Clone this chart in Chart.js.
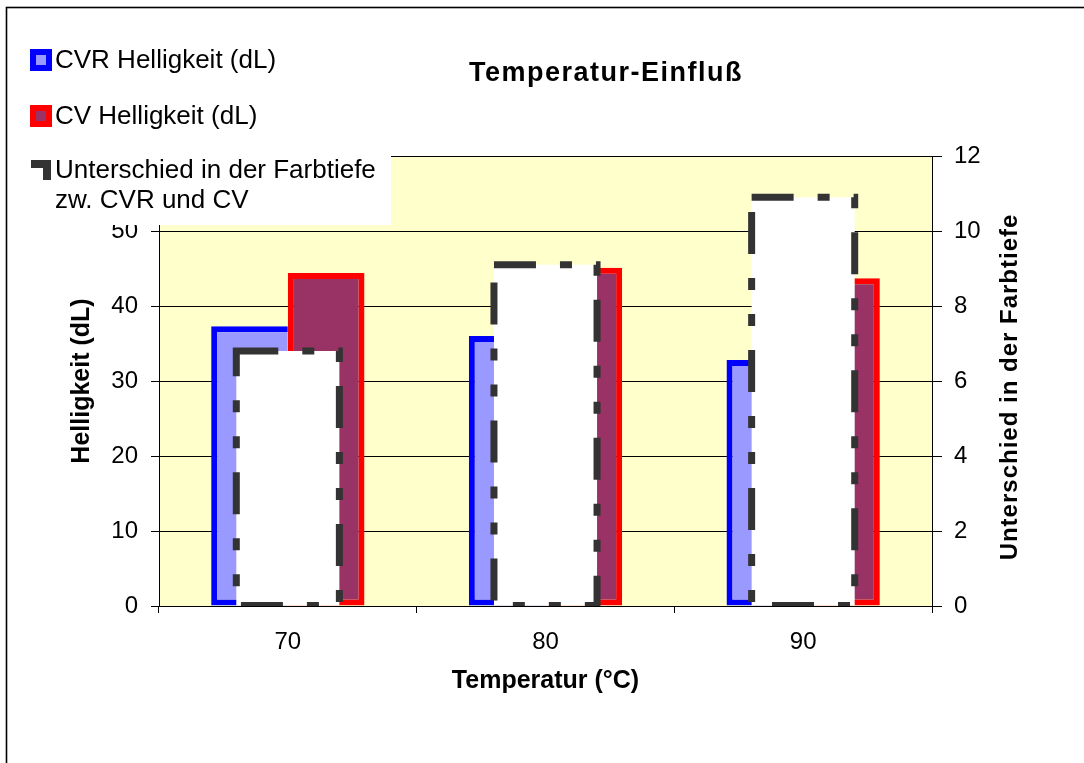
<!DOCTYPE html>
<html lang="de">
<head>
  <meta charset="UTF-8" />
  <title>Temperatur-Einfluß</title>
  <script src="https://cdn.jsdelivr.net/npm/chart.js"></script>
  <style>
    body { margin: 0; background: #fff; }
    canvas { display: block; }
  </style>
</head>
<body>
  <canvas id="chart" width="1084" height="763"></canvas>

  <script>
    const temperaturen = ["70", "80", "90"];
    const cvrHelligkeit = [37.3, 36.0, 32.8];
    const cvHelligkeit = [44.4, 45.1, 43.7];
    const farbtiefeDiff = [6.8, 9.1, 10.9];
    const legendTexte = ["CVR Helligkeit (dL)", "CV Helligkeit (dL)", "Unterschied in der Farbtiefe", "zw. CVR und CV"];
    const titel = "Temperatur-Einfluß";
    const y2Titel = "Unterschied in der Farbtiefe";

    const FONT = "'Liberation Sans', Arial, sans-serif";

    // gelber Plotbereich, gestrichelte Balken, Legende, Titel, rechte Achsenbeschriftung
    const zeichenPlugin = {
      id: "zeichen",
      beforeDraw(chart) {
        const { ctx, chartArea: a } = chart;
        ctx.save();
        ctx.fillStyle = "#FFFFCC";
        ctx.fillRect(a.left, a.top, a.right - a.left, a.bottom - a.top);
        ctx.restore();
      },
      afterDatasetsDraw(chart) {
        const { ctx, chartArea: a } = chart;
        const meta = chart.getDatasetMeta(2);
        ctx.save();
        ctx.beginPath();
        ctx.rect(a.left, a.top, a.right - a.left, a.bottom - a.top);
        ctx.clip();
        ctx.strokeStyle = "#333333";
        ctx.lineWidth = 7;
        ctx.setLineDash([42, 24, 12, 24, 12, 24]);
        meta.data.forEach(el => {
          const { x, y, base, width } = el.getProps(["x", "y", "base", "width"], true);
          ctx.strokeRect(x - width / 2, y, width, base - y);
        });
        ctx.restore();
      },
      afterDraw(chart) {
        const ctx = chart.ctx;
        ctx.save();
        // Legende
        ctx.fillStyle = "#fff";
        ctx.fillRect(20, 30, 371, 195);
        ctx.fillStyle = "#0000FF";
        ctx.fillRect(30, 49, 22, 22);
        ctx.fillStyle = "#9999FF";
        ctx.fillRect(36, 55, 10, 10);
        ctx.fillStyle = "#FF0000";
        ctx.fillRect(30, 105, 22, 22);
        ctx.fillStyle = "#993366";
        ctx.fillRect(36, 111, 10, 10);
        ctx.fillStyle = "#333333";
        ctx.fillRect(31, 160, 20, 8);
        ctx.fillRect(43, 160, 8, 20);
        ctx.fillStyle = "#000";
        ctx.font = "26px " + FONT;
        ctx.textBaseline = "middle";
        ctx.textAlign = "left";
        ctx.fillText(legendTexte[0], 55, 61);
        ctx.fillText(legendTexte[1], 55, 117);
        ctx.fillText(legendTexte[2], 55, 171);
        ctx.fillText(legendTexte[3], 55, 201);
        // Titel
        ctx.font = "bold 27px " + FONT;
        ctx.textAlign = "center";
        ctx.letterSpacing = "1.5px";
        ctx.fillText(titel, 606, 74);
        // rechte Achsenbeschriftung (von unten nach oben)
        ctx.letterSpacing = "1px";
        ctx.translate(1010, 387);
        ctx.rotate(-Math.PI / 2);
        ctx.font = "bold 24px " + FONT;
        ctx.fillText(y2Titel, 0, 0);
        ctx.restore();
        // Rahmen
        ctx.save();
        ctx.strokeStyle = "#000";
        ctx.lineWidth = 1.6;
        ctx.strokeRect(6.5, 7.5, 1200, 900);
        ctx.restore();
      }
    };

    new Chart(document.getElementById("chart"), {
      type: "bar",
      data: {
        labels: temperaturen,
        datasets: [
          {
            label: legendTexte[0],
            data: cvrHelligkeit,
            backgroundColor: "#9999FF",
            borderColor: "#0000FF",
            borderWidth: { top: 6, left: 6, bottom: 6, right: 0 },
            borderSkipped: false,
            inflateAmount: 0,
            categoryPercentage: 0.595,
            barPercentage: 1,
            yAxisID: "y",
            order: 1
          },
          {
            label: legendTexte[1],
            data: cvHelligkeit,
            backgroundColor: "#993366",
            borderColor: "#FF0000",
            borderWidth: 6,
            borderSkipped: false,
            inflateAmount: 0,
            categoryPercentage: 0.595,
            barPercentage: 1,
            yAxisID: "y",
            order: 1
          },
          {
            label: legendTexte[2] + " " + legendTexte[3],
            data: farbtiefeDiff,
            backgroundColor: "#FFFFFF",
            borderWidth: 0,
            inflateAmount: 0,
            grouped: false,
            categoryPercentage: 0.4,
            barPercentage: 1,
            yAxisID: "y2",
            order: 0
          }
        ]
      },
      options: {
        responsive: false,
        animation: false,
        layout: { padding: { top: 156, left: 0, right: 0, bottom: 0 } },
        plugins: {
          legend: { display: false },
          tooltip: { enabled: false },
          title: { display: false }
        },
        scales: {
          x: {
            afterFit: s => { s.height = 157; },
            border: { color: "#000", width: 1 },
            grid: { drawOnChartArea: false, tickLength: 7, color: "#000" },
            ticks: { color: "#000", padding: 15, font: { family: FONT, size: 24 } },
            title: {
              display: true,
              text: "Temperatur (°C)",
              color: "#000",
              font: { family: FONT, size: 25, weight: "bold" },
              padding: { top: 0, bottom: 67 }
            }
          },
          y: {
            position: "left",
            min: 0,
            max: 60,
            afterFit: s => { s.width = 159; },
            border: { color: "#000", width: 1 },
            grid: { color: "#000", tickLength: 8 },
            ticks: { stepSize: 10, color: "#000", padding: 13, font: { family: FONT, size: 24 } },
            title: {
              display: true,
              text: "Helligkeit (dL)",
              color: "#000",
              font: { family: FONT, size: 25, weight: "bold" },
              padding: { top: 67, bottom: 0 }
            }
          },
          y2: {
            position: "right",
            min: 0,
            max: 12,
            afterFit: s => { s.width = 152; },
            border: { color: "#000", width: 1 },
            grid: { drawOnChartArea: false, color: "#000", tickLength: 10 },
            ticks: { stepSize: 2, color: "#000", padding: 12, font: { family: FONT, size: 24 } }
          }
        }
      },
      plugins: [zeichenPlugin]
    });
  </script>
</body>
</html>
